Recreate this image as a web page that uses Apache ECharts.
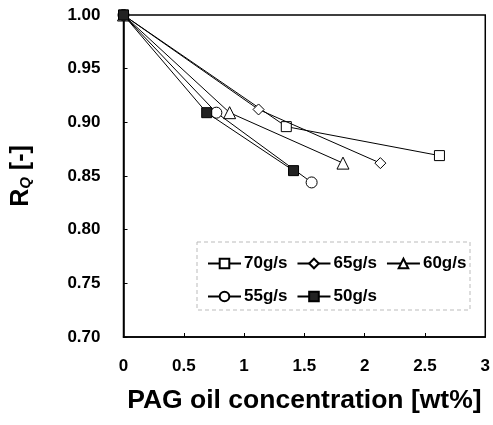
<!DOCTYPE html>
<html><head><meta charset="utf-8">
<script src="https://cdn.jsdelivr.net/npm/echarts@6/dist/echarts.min.js"></script>
<style>html,body{margin:0;padding:0;background:#fff}#c{width:493px;height:425px}</style>
</head><body><div id="c"></div>
<script>
const seriesNames = ['70g/s','65g/s','60g/s','55g/s','50g/s'];
const x70 = [0, 1.35, 2.62], y70 = [1.00, 0.896, 0.869];
const x65 = [0, 1.12, 2.13], y65 = [1.00, 0.912, 0.862];
const x60 = [0, 0.88, 1.82], y60 = [1.00, 0.909, 0.862];
const x55 = [0, 0.77, 1.56], y55 = [1.00, 0.909, 0.844];
const x50 = [0, 0.69, 1.41], y50 = [1.00, 0.909, 0.855];
const xTicks = [0, 0.5, 1, 1.5, 2, 2.5, 3];
const yTicks = [0.70, 0.75, 0.80, 0.85, 0.90, 0.95, 1.00];

const pairs = (xs, ys) => xs.map((v, i) => [v, ys[i]]);
const styles = [
  {symbol:'rect', size:10, fill:'#fff'},
  {symbol:'diamond', size:11, fill:'#fff'},
  {symbol:'triangle', size:12, fill:'#fff'},
  {symbol:'circle', size:11, fill:'#fff'},
  {symbol:'rect', size:10, fill:'#222'}
];
const datas = [pairs(x70,y70), pairs(x65,y65), pairs(x60,y60), pairs(x55,y55), pairs(x50,y50)];
const font = 'Liberation Sans, Arial, sans-serif';
const legendText = {color:'#000', fontFamily:font, fontWeight:'bold', fontSize:17, padding:[0,0,0,-2]};

const chart = echarts.init(document.getElementById('c'), null, {renderer:'canvas'});
chart.setOption({
  animation:false,
  backgroundColor:'#fff',
  grid:{left:123.5, right:5.5, top:15, bottom:88, show:true, borderColor:'#000', borderWidth:1.5, containLabel:false},
  xAxis:{type:'value', min:0, max:3, interval:0.5,
    axisLine:{show:true, lineStyle:{color:'#000', width:1.5}},
    axisTick:{show:true, inside:true, length:4, lineStyle:{color:'#000'}},
    splitLine:{show:false},
    axisLabel:{color:'#000', fontFamily:font, fontWeight:'bold', fontSize:17, margin:21,
      formatter:v => xTicks.includes(v) ? String(v) : ''},
    name:'PAG oil concentration [wt%]', nameLocation:'middle', nameGap:50,
    nameTextStyle:{color:'#000', fontFamily:font, fontWeight:'bold', fontSize:26.5}
  },
  yAxis:{type:'value', min:0.70, max:1.00, interval:0.05,
    axisLine:{show:true, lineStyle:{color:'#000', width:1.5}},
    axisTick:{show:true, inside:true, length:4, lineStyle:{color:'#000'}},
    splitLine:{show:false},
    axisLabel:{color:'#000', fontFamily:font, fontWeight:'bold', fontSize:17, margin:23,
      formatter:v => yTicks.map(t=>t.toFixed(2)).includes(v.toFixed(2)) ? v.toFixed(2) : ''},
    name:'{a|R}{b|Q}{a| [-]}', nameLocation:'middle', nameGap:90, nameRotate:90,
    nameTextStyle:{rich:{
      a:{color:'#000', fontFamily:font, fontWeight:'bold', fontSize:25},
      b:{color:'#000', fontFamily:font, fontWeight:'bold', fontStyle:'italic', fontSize:15, padding:[10,0,0,0]}
    }}
  },
  legend:[
    {data:seriesNames.slice(0,3), left:202, top:250, itemGap:9, itemWidth:33, itemHeight:12, textStyle:legendText},
    {data:seriesNames.slice(3), left:202, top:283, itemGap:9, itemWidth:33, itemHeight:12, textStyle:legendText}
  ],
  graphic:[{type:'rect', shape:{x:197, y:242, width:273, height:68}, style:{fill:'none', stroke:'#bbb', lineWidth:1, lineDash:[4,3]}, z:1}],
  series: seriesNames.map((n, i) => ({
    name:n, type:'line', data:datas[i], symbol:styles[i].symbol, symbolSize:styles[i].size,
    showAllSymbol:true, z:2+i,
    lineStyle:{color:'#000', width:1},
    itemStyle:{color:styles[i].fill, borderColor:'#000', borderWidth:1, opacity:1},
    emphasis:{disabled:true}
  }))
});
</script></body></html>
